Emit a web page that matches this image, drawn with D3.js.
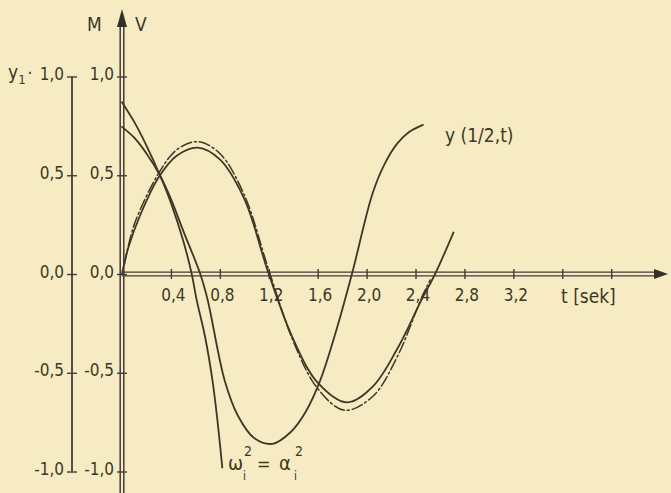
<!DOCTYPE html>
<html>
<head>
<meta charset="utf-8">
<script src="https://cdn.jsdelivr.net/npm/d3@7"></script>
<style>
  html, body { margin: 0; padding: 0; background: #f6ebc2; }
  svg { display: block; }
  text { font-family: "DejaVu Sans Condensed", "DejaVu Sans", sans-serif; font-stretch: condensed; fill: #3d3826; }
</style>
</head>
<body>
<svg id="chart" width="671" height="493"></svg>
<script>
// ticks (comma decimals, as in the original print)
const xTicks = [0.4, 0.8, 1.2, 1.6, 2.0, 2.4, 2.8, 3.2, 3.6, 4.0];
const xTickLabels = ["0,4", "0,8", "1,2", "1,6", "2,0", "2,4", "2,8", "3,2", "", ""];
const yTicks = [-1, -0.5, 0, 0.5, 1];
const yTickLabels = ["-1,0", "-0,5", "0,0", "0,5", "1,0"];

// steep curve, labelled  w_i^2 = a_i^2   [t, value]
const steepCurve = [
    [0, 0.87], [0.1, 0.77], [0.2, 0.65], [0.31, 0.5], [0.4, 0.36], [0.5, 0.17],
    [0.57, 0], [0.61, -0.13], [0.68, -0.32], [0.74, -0.54], [0.78, -0.74], [0.82, -0.98]
];
// y(1/2, t)
const deflection = [
    [0, 0.745], [0.1, 0.69], [0.2, 0.61], [0.31, 0.5], [0.4, 0.38], [0.5, 0.22],
    [0.64, 0], [0.7, -0.13], [0.84, -0.54], [0.95, -0.72], [1.08, -0.83], [1.23, -0.86],
    [1.38, -0.8], [1.5, -0.7], [1.62, -0.54], [1.75, -0.29], [1.88, 0], [2.05, 0.41],
    [2.15, 0.56], [2.25, 0.66], [2.35, 0.72], [2.46, 0.755]
];
// solid wave (moment)
const solidWave = [
    [0, 0], [0.05, 0.13], [0.15, 0.3], [0.3, 0.49], [0.45, 0.6], [0.62, 0.64],
    [0.8, 0.58], [1.0, 0.38], [1.2, 0.0], [1.4, -0.33], [1.6, -0.55], [1.84, -0.65],
    [2.05, -0.57], [2.25, -0.38], [2.45, -0.13], [2.56, 0.0], [2.71, 0.21]
];
// dash-dot wave (shear)
const dashWave = [
    [0.02, 0.05], [0.1, 0.25], [0.3, 0.51], [0.45, 0.63], [0.62, 0.67], [0.8, 0.61],
    [1.0, 0.4], [1.2, 0.02], [1.4, -0.34], [1.6, -0.58], [1.82, -0.69], [2.05, -0.62],
    [2.25, -0.42], [2.45, -0.12], [2.52, -0.03]
];

const ink = "#3d3826";
const axisInk = "#463a3a";

const svg = d3.select("#chart");

const x = d3.scaleLinear().domain([0, 4]).range([122, 611.2]);
const y = d3.scaleLinear().domain([-1, 1]).range([471.5, 76.5]);
const leftAxisX = 72;

// axis lines (double ruled, like the drawing)
const axes = svg.append("g").attr("stroke", axisInk).attr("fill", "none");
[-1.8, 1.8].forEach(o => {
    axes.append("line")
        .attr("x1", x(0)).attr("x2", 660)
        .attr("y1", y(0) + o).attr("y2", y(0) + o)
        .attr("stroke-width", 1.3);
    axes.append("line")
        .attr("x1", x(0) + o).attr("x2", x(0) + o)
        .attr("y1", 24).attr("y2", 493)
        .attr("stroke-width", 1.5);
});
// arrows
svg.append("path")
    .attr("d", `M${x(0)},9 L${x(0) - 5},27 L${x(0) + 5},27 Z`)
    .attr("fill", "#33302a");
svg.append("path")
    .attr("d", `M668,${y(0)} L654,${y(0) - 5} L654,${y(0) + 5} Z`)
    .attr("fill", "#33302a");

// left y1 axis
svg.append("line")
    .attr("x1", leftAxisX).attr("x2", leftAxisX)
    .attr("y1", y(1)).attr("y2", y(-1))
    .attr("stroke", axisInk).attr("stroke-width", 1.8);

const fontSize = 17;

// y tick marks + labels on both vertical axes
function yAxisAt(xpos) {
    const g = svg.append("g")
        .attr("transform", `translate(${xpos},0)`)
        .call(d3.axisLeft(y).tickValues(yTicks).tickSize(5)
            .tickFormat((d, i) => yTickLabels[i]));
    g.select(".domain").remove();
    g.selectAll(".tick line").attr("x1", 5).attr("x2", -5)
        .attr("stroke", axisInk).attr("stroke-width", 1.4);
    g.selectAll(".tick text")
        .attr("x", -8).attr("dy", 3)
        .attr("font-size", fontSize)
        .attr("fill", ink)
        .style("font-family", null);
    return g;
}
yAxisAt(leftAxisX);
yAxisAt(x(0));

// x ticks
const xg = svg.append("g")
    .attr("transform", `translate(0,${y(0)})`)
    .call(d3.axisBottom(x).tickValues(xTicks).tickSize(5)
        .tickFormat((d, i) => xTickLabels[i]));
xg.select(".domain").remove();
xg.selectAll(".tick line").attr("y1", -5).attr("y2", 5)
    .attr("stroke", axisInk).attr("stroke-width", 1.4);
xg.selectAll(".tick text")
    .attr("y", 27).attr("dy", 0).attr("dx", 2)
    .attr("font-size", fontSize)
    .attr("fill", ink)
    .style("font-family", null);

// curves
const line = d3.line()
    .curve(d3.curveCatmullRom.alpha(0.5))
    .x(d => x(d[0]))
    .y(d => y(d[1]));

const curves = svg.append("g")
    .attr("fill", "none")
    .attr("stroke", ink)
    .attr("stroke-linecap", "round")
    .attr("stroke-linejoin", "round");

curves.append("path").attr("d", line(dashWave))
    .attr("stroke-width", 1.5)
    .attr("stroke-dasharray", "11,3,2,3");
curves.append("path").attr("d", line(solidWave)).attr("stroke-width", 1.8);
curves.append("path").attr("d", line(deflection)).attr("stroke-width", 1.8);
curves.append("path").attr("d", line(steepCurve)).attr("stroke-width", 1.8);

// labels
svg.append("text").attr("x", 87).attr("y", 31).attr("font-size", 19).text("M");
svg.append("text").attr("x", 135).attr("y", 31).attr("font-size", 19).text("V");

const y1 = svg.append("text").attr("x", 8).attr("y", 79).attr("font-size", 19);
y1.append("tspan").text("y");
y1.append("tspan").attr("font-size", 13).attr("dy", 5).text("1");
y1.append("tspan").attr("font-size", 17).attr("dy", -5).attr("dx", 2).text("·");

svg.append("text").attr("x", 561).attr("y", 303).attr("font-size", 19).text("t [sek]");
svg.append("text").attr("x", 445).attr("y", 142).attr("font-size", 19).text("y (1/2,t)");

// w_i^2 = a_i^2, sub/superscripts stacked as in the drawing
const omegaParts = [
    { s: "ω", x: 228, y: 470, size: 20 },
    { s: "i", x: 243, y: 480, size: 12 },
    { s: "2", x: 244, y: 456, size: 14 },
    { s: "=", x: 257, y: 470, size: 18 },
    { s: "α", x: 279, y: 470, size: 20 },
    { s: "i", x: 294, y: 480, size: 12 },
    { s: "2", x: 295, y: 456, size: 14 }
];
svg.append("g").selectAll("text")
    .data(omegaParts)
    .join("text")
    .attr("x", d => d.x).attr("y", d => d.y)
    .attr("font-size", d => d.size)
    .text(d => d.s);
</script>
</body>
</html>
